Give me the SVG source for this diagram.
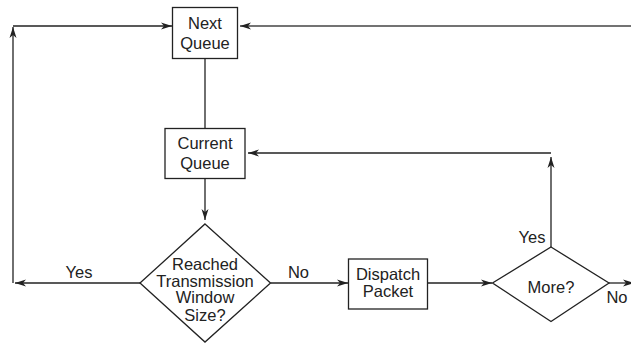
<svg xmlns="http://www.w3.org/2000/svg" width="631" height="343" viewBox="0 0 631 343">
<style>
.box{fill:#fff;stroke:#222;stroke-width:1.3}
.t{font-family:"Liberation Sans",Arial,sans-serif;font-size:16.5px;fill:#222;text-anchor:middle}
.c{fill:none;stroke:#222;stroke-width:1.3}
</style>
<defs>
<marker id="ah" markerUnits="userSpaceOnUse" markerWidth="12" markerHeight="8" refX="11" refY="4" orient="auto">
<path d="M0,0.5 L11,4 L0,7.5 L3,4 z" fill="#222"/>
</marker>
</defs>
<rect width="631" height="343" fill="#fff"/>
<g id="connectors">
<path class="c" d="M205,58.5 V128"/>
<path class="c" d="M205,178 V220" marker-end="url(#ah)"/>
<path class="c" d="M140,283 H15" marker-end="url(#ah)"/>
<path class="c" d="M13,283 V27" marker-end="url(#ah)"/>
<path class="c" d="M13,26 H172" marker-end="url(#ah)"/>
<path class="c" d="M631,26 H240" marker-end="url(#ah)" style="stroke:#444;stroke-width:1.6"/>
<path class="c" d="M270.5,283 H348" marker-end="url(#ah)"/>
<path class="c" d="M427,283 H492" marker-end="url(#ah)"/>
<path class="c" d="M551,247 V157" marker-end="url(#ah)"/>
<path class="c" d="M551,153 H248" marker-end="url(#ah)"/>
<path class="c" d="M609,283 H634" marker-end="url(#ah)"/>
<text class="t" x="79" y="278">Yes</text>
<text class="t" x="298.5" y="278">No</text>
<text class="t" x="532" y="243">Yes</text>
<text class="t" x="617" y="303">No</text>
</g>
<g id="next-queue">
<rect class="box" x="172.5" y="7.5" width="65" height="51"/>
<text class="t" x="205" y="28.5">Next</text>
<text class="t" x="205" y="48.5">Queue</text>
</g>
<g id="current-queue">
<rect class="box" x="165" y="128.5" width="80" height="50"/>
<text class="t" x="205" y="148.5">Current</text>
<text class="t" x="205" y="168.5">Queue</text>
</g>
<g id="reached-window">
<path class="box" d="M205,224 L270.5,283 L205,342 L140,283 Z"/>
<text class="t" x="205" y="270">Reached</text>
<text class="t" x="205" y="286.5">Transmission</text>
<text class="t" x="205" y="303">Window</text>
<text class="t" x="205" y="320.5">Size?</text>
</g>
<g id="dispatch-packet">
<rect class="box" x="348.5" y="259" width="79" height="50"/>
<text class="t" x="388" y="280">Dispatch</text>
<text class="t" x="388" y="296.5">Packet</text>
</g>
<g id="more">
<path class="box" d="M551,247 L609,283 L551,321.5 L492.5,283 Z"/>
<text class="t" x="551" y="293">More?</text>
</g>
</svg>
